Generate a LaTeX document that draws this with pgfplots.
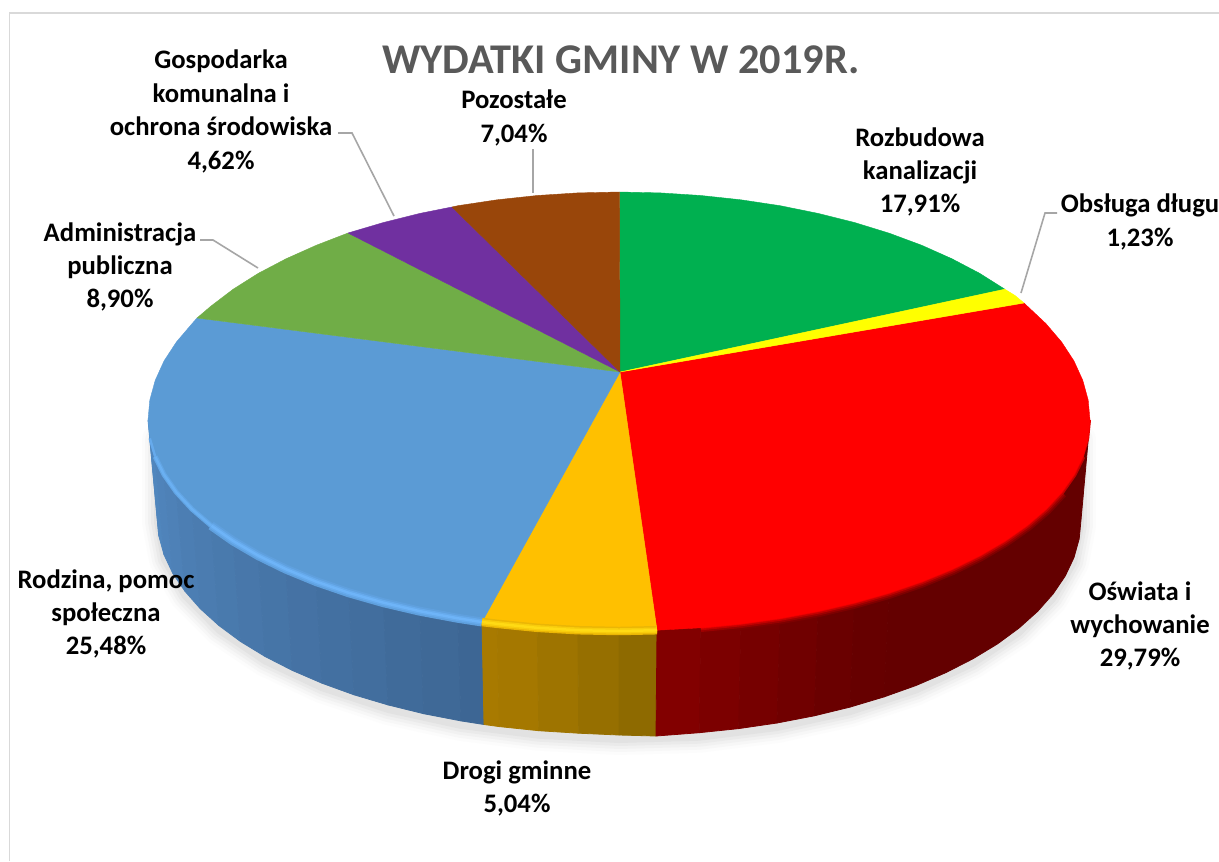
\documentclass[border=0pt]{standalone}
\usepackage{pgfplots}
\pgfplotsset{compat=1.18}
\usepackage{pgfplotstable}
\usepackage{fontspec}
\setmainfont{Carlito}
\definecolor{lead}{RGB}{166,166,166}
\definecolor{titlegrey}{RGB}{89,89,89}
\definecolor{cgreen}{RGB}{0,176,80}
\definecolor{cyellow}{RGB}{255,255,0}
\definecolor{corange}{RGB}{255,192,0}
\definecolor{cblue}{RGB}{91,155,213}
\definecolor{clgreen}{RGB}{112,173,71}
\definecolor{cpurple}{RGB}{112,48,160}
\definecolor{cbrown}{RGB}{153,70,10}
\pgfplotstableread{
x y
620 372
619.5 192
660.1 192.9
700.8 195.5
740.9 199.8
780.1 205.7
818.1 213.4
854.5 222.5
889.2 233.2
921.8 245.3
952 258.8
979.8 273.4
1004.8 289.2
}\tgreen
\pgfplotstableread{
x y
620 372
1004.8 289.2
1015 295.5
1024 303
}\tyellow
\pgfplotstableread{
x y
620 372
1024 303
1045.9 323.6
1061.6 342
1074 361
1082.8 380.4
1088.2 400.1
1090 420
1088.2 438.4
1082.8 456.6
1074 474.6
1061.6 492.2
1045.9 509.2
1026.9 525.5
1004.8 541
979.8 555.6
952 569.2
921.8 581.6
889.2 592.8
854.5 602.7
818.1 611.2
780.1 618.3
740.9 623.8
700.8 627.8
657 630.2
}\tred
\pgfplotstableread{
x y
620 372
657 630.2
619 631
577.9 630.2
537.2 627.8
497.1 623.8
482 622
}\torange
\pgfplotstableread{
x y
620 372
482 622
457.9 618.3
419.9 611.2
383.5 602.7
348.8 592.8
316.2 581.6
286 569.2
258.2 555.6
233.2 541
211.1 525.5
192.1 509.2
176.4 492.2
164 474.6
155.2 456.6
149.8 438.4
148 420
149.8 400.1
155.2 380.4
164 361
176.4 342
192.1 323.6
197 318
}\tblue
\pgfplotstableread{
x y
620 372
197 318
211.1 306
233.2 289.2
258.2 273.4
286 258.8
316.2 245.3
348 233
}\tlgreen
\pgfplotstableread{
x y
620 372
348 233
383.5 222.5
419.9 213.4
452 207
}\tpurple
\pgfplotstableread{
x y
620 372
452 207
457.9 205.7
497.1 199.8
537.2 195.5
577.9 192.9
619.5 192
}\tbrown
\pgfplotstableread{
x y
1081 440
1081 525
1074 562.5
1053.1 598.9
1019.1 633
972.9 663.8
916 690.5
850 712.1
777 728
699.2 737.7
619 740
538.8 735.7
461 725.9
388 709.9
322 688.2
265.1 661.5
218.9 630.5
184.9 596.2
164 559.7
157 522
157 440
}\tshadow
\tikzset{
  sq/.style n args={3}{fill={rgb,255:red,#1;green,#2;blue,#3},draw={rgb,255:red,#1;green,#2;blue,#3},line width=0.8pt,line join=round},
  rim/.style n args={4}{draw={rgb,255:red,#1;green,#2;blue,#3},line width=#4,line join=round,fill=none},
  sh/.style n args={2}{draw={rgb,255:red,#1;green,#1;blue,#1},fill={rgb,255:red,#1;green,#1;blue,#1},line width=#2,line join=round},
  lbl/.style={font=\fontsize{26.8}{33.5}\selectfont\bfseries,align=center,inner sep=0pt,text=black},
  ld/.style={draw=lead,line width=1.6pt,line join=miter},
  slice/.style={fill=#1,draw=#1,line width=0.4pt,line join=round}
}
\begin{document}
\begin{tikzpicture}
\begin{axis}[
  hide axis, scale only axis, width=1219bp, height=861bp,
  xmin=0, xmax=1219, ymin=0, ymax=861, y dir=reverse, no markers, clip=true,
  every axis plot/.append style={solid}
]
\addplot[fill=white,draw=none] coordinates {(0,0)(1219,0)(1219,861)(0,861)};
% border
\addplot[draw={rgb,255:red,217;green,217;blue,217},line width=2pt] coordinates {(9.5,861)(9.5,13)(1219,13)};
% shadow
\addplot[sh={252}{30pt}] table {\tshadow} -- cycle;
\addplot[sh={247}{24pt}] table {\tshadow} -- cycle;
\addplot[sh={241}{18pt}] table {\tshadow} -- cycle;
\addplot[sh={234}{12pt}] table {\tshadow} -- cycle;
\addplot[sh={226}{6pt}] table {\tshadow} -- cycle;
% blue side
\addplot[sq={82}{136}{192}] coordinates {(148,420)(149.8,438.4)(158.8,535.9)(157,517)} -- cycle;
\addplot[sq={80}{134}{189}] coordinates {(149.8,438.4)(155.2,456.6)(164,554.7)(158.8,535.9)} -- cycle;
\addplot[sq={79}{131}{186}] coordinates {(155.2,456.6)(164,474.6)(172.7,573.2)(164,554.7)} -- cycle;
\addplot[sq={78}{129}{183}] coordinates {(164,474.6)(176.4,492.2)(184.9,591.2)(172.7,573.2)} -- cycle;
\addplot[sq={76}{126}{179}] coordinates {(176.4,492.2)(192.1,509.2)(200.3,608.7)(184.9,591.2)} -- cycle;
\addplot[sq={75}{124}{176}] coordinates {(192.1,509.2)(211.1,525.5)(218.9,625.5)(200.3,608.7)} -- cycle;
\addplot[sq={73}{122}{173}] coordinates {(211.1,525.5)(233.2,541)(240.5,641.5)(218.9,625.5)} -- cycle;
\addplot[sq={72}{119}{170}] coordinates {(233.2,541)(258.2,555.6)(265.1,656.5)(240.5,641.5)} -- cycle;
\addplot[sq={70}{117}{167}] coordinates {(258.2,555.6)(286,569.2)(292.3,670.4)(265.1,656.5)} -- cycle;
\addplot[sq={69}{114}{164}] coordinates {(286,569.2)(316.2,581.6)(322,683.2)(292.3,670.4)} -- cycle;
\addplot[sq={67}{112}{161}] coordinates {(316.2,581.6)(348.8,592.8)(354,694.8)(322,683.2)} -- cycle;
\addplot[sq={66}{110}{158}] coordinates {(348.8,592.8)(383.5,602.7)(388,704.9)(354,694.8)} -- cycle;
\addplot[sq={64}{107}{154}] coordinates {(383.5,602.7)(419.9,611.2)(423.7,713.7)(388,704.9)} -- cycle;
\addplot[sq={63}{105}{151}] coordinates {(419.9,611.2)(457.9,618.3)(461,720.9)(423.7,713.7)} -- cycle;
\addplot[sq={61}{102}{148}] coordinates {(457.9,618.3)(482,622)(484,724.5)(461,720.9)} -- cycle;
% orange side
\addplot[sq={168}{122}{0}] coordinates {(482,622)(497.1,623.8)(499.4,726.6)(484,724.5)} -- cycle;
\addplot[sq={165}{120}{0}] coordinates {(497.1,623.8)(537.2,627.8)(538.8,730.7)(499.4,726.6)} -- cycle;
\addplot[sq={158}{116}{0}] coordinates {(537.2,627.8)(577.9,630.2)(578.7,733.2)(538.8,730.7)} -- cycle;
\addplot[sq={150}{111}{0}] coordinates {(577.9,630.2)(619,631)(619,735)(578.7,733.2)} -- cycle;
\addplot[sq={142}{106}{0}] coordinates {(619,631)(657,630.2)(656,736)(619,735)} -- cycle;
% red side
\addplot[sq={130}{0}{0}] coordinates {(657,630.2)(700.8,627.8)(699.2,732.7)(656,736)} -- cycle;
\addplot[sq={124}{0}{0}] coordinates {(700.8,627.8)(740.9,623.8)(738.6,728.6)(699.2,732.7)} -- cycle;
\addplot[sq={118}{0}{0}] coordinates {(740.9,623.8)(780.1,618.3)(777,723)(738.6,728.6)} -- cycle;
\addplot[sq={112}{0}{0}] coordinates {(780.1,618.3)(818.1,611.2)(814.3,715.8)(777,723)} -- cycle;
\addplot[sq={106}{0}{0}] coordinates {(818.1,611.2)(854.5,602.7)(850,707.1)(814.3,715.8)} -- cycle;
\addplot[sq={102}{0}{0}] coordinates {(854.5,602.7)(889.2,592.8)(884,696.9)(850,707.1)} -- cycle;
\addplot[sq={100}{0}{0}] coordinates {(889.2,592.8)(921.8,581.6)(952,569.2)(979.8,555.6)(1004.8,541)(1026.9,525.5)(1045.9,509.2)(1061.6,492.2)(1074,474.6)(1082.8,456.6)(1088.2,438.4)(1090,420)
  (1081,520)(1079.2,538.8)(1074,557.5)(1065.3,575.9)(1053.1,593.9)(1037.7,611.3)(1019.1,628)(997.5,643.9)(972.9,658.8)(945.7,672.7)(916,685.5)(884,696.9)} -- cycle;
% red rim under the top: soft edge outwards
\addplot[rim={125}{0}{0}{12pt},skip coords between index={0}{11},skip coords between index={24}{30}] table {\tred};
\addplot[rim={155}{0}{0}{8.5pt},skip coords between index={0}{11},skip coords between index={24}{30}] table {\tred};
\addplot[rim={195}{0}{0}{5pt},skip coords between index={0}{9},skip coords between index={24}{30}] table {\tred};
\addplot[rim={230}{0}{0}{2pt},skip coords between index={0}{7},skip coords between index={24}{30}] table {\tred};
% top
\addplot[slice=cgreen] table {\tgreen} -- cycle;
\addplot[slice=red] table {\tred} -- cycle;
\addplot[slice=cyellow] table {\tyellow} -- cycle;
\addplot[slice=corange] table {\torange} -- cycle;
\addplot[slice=cblue] table {\tblue} -- cycle;
\addplot[slice=clgreen] table {\tlgreen} -- cycle;
\addplot[slice=cpurple] table {\tpurple} -- cycle;
\addplot[slice=cbrown] table {\tbrown} -- cycle;
% bevel
\addplot[rim={95}{160}{222}{9pt},skip coords between index={0}{1},skip coords between index={11}{30}] table {\tblue};
\addplot[rim={102}{170}{236}{5.5pt},skip coords between index={0}{1},skip coords between index={11}{30}] table {\tblue};
\addplot[rim={110}{180}{248}{2.5pt},skip coords between index={0}{1},skip coords between index={11}{30}] table {\tblue};
\addplot[rim={98}{165}{228}{5pt},skip coords between index={0}{10},skip coords between index={15}{30}] table {\tblue};
\addplot[rim={106}{176}{242}{2.5pt},skip coords between index={0}{10},skip coords between index={15}{30}] table {\tblue};
\addplot[rim={102}{170}{236}{2.5pt},skip coords between index={0}{14},skip coords between index={16}{30}] table {\tblue};
\addplot[rim={235}{182}{5}{8.5pt},skip coords between index={0}{1}] table {\torange};
\addplot[rim={248}{204}{12}{5.5pt},skip coords between index={0}{1}] table {\torange};
\addplot[rim={255}{218}{20}{2.5pt},skip coords between index={0}{1}] table {\torange};
% leaders
\addplot[ld] coordinates {(338,133)(352,133)(394,216)};
\addplot[ld] coordinates {(533,149)(533,193)};
\addplot[ld] coordinates {(200,240)(213,240)(258,268)};
\addplot[ld] coordinates {(1057,213)(1045,213)(1021,293)};
% text
\node[font=\fontsize{42.5}{44}\selectfont\bfseries,text=titlegrey,inner sep=0pt] at (axis cs:621,60) {WYDATKI GMINY W 2019R.};
\node[lbl] at (axis cs:221,111.5) {Gospodarka\\komunalna i\\ochrona środowiska\\4,62\%};
\node[lbl] at (axis cs:514,118) {Pozostałe\\7,04\%};
\node[lbl] at (axis cs:920,172) {Rozbudowa\\kanalizacji\\17,91\%};
\node[lbl] at (axis cs:1140,222) {Obsługa długu\\1,23\%};
\node[lbl] at (axis cs:120,267) {Administracja\\publiczna\\8,90\%};
\node[lbl] at (axis cs:106,614) {Rodzina, pomoc\\społeczna\\25,48\%};
\node[lbl] at (axis cs:1140,626) {Oświata i\\wychowanie\\29,79\%};
\node[lbl] at (axis cs:517,788.5) {Drogi gminne\\5,04\%};
\end{axis}
\end{tikzpicture}
\end{document}
